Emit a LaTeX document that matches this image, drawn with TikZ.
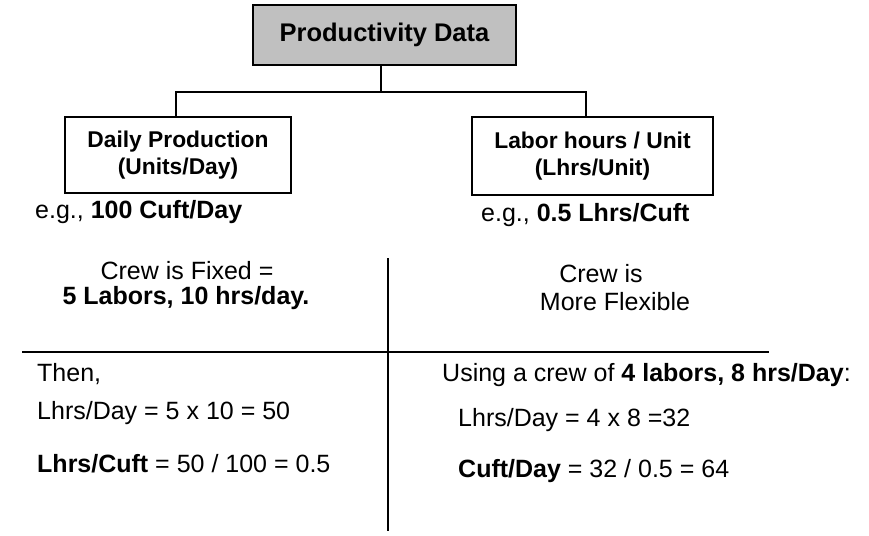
\documentclass[tikz,border=0pt]{standalone}
\usepackage{fontspec}
\setmainfont{Liberation Sans}
\definecolor{boxgray}{RGB}{192,192,192}
\begin{document}
\begin{tikzpicture}[x=1pt,y=-1pt,
  box/.style={draw=black,line width=1.6pt,inner sep=0pt,align=center},
  conn/.style={draw=black,line width=1.4pt},
  rule/.style={draw=black,line width=1.4pt},
  body/.style={inner sep=0pt,font=\fontsize{25}{29}\selectfont},
  boxtext/.style={font=\fontsize{22.8}{27}\selectfont\bfseries}]
\useasboundingbox (0,0) rectangle (869,535);

% top node and its two branches
\node[box,fill=boxgray,minimum width=263pt,minimum height=60pt,
      font=\fontsize{25.5}{30}\selectfont\bfseries] (top) at (384.5,35) {Productivity Data};
\node[box,boxtext,minimum width=226pt,minimum height=76pt] (daily) at (178,155)
  {Daily Production\\(Units/Day)};
\node[box,boxtext,minimum width=241pt,minimum height=78pt] (labor) at (592.5,156)
  {Labor hours / Unit\\(Lhrs/Unit)};

\coordinate (fork) at (381,92);
\draw[conn] (top.south -| fork) -- (fork);
\draw[conn] (fork) -| ([xshift=-2pt]daily.north);
\draw[conn] (fork) -| ([xshift=-6.5pt]labor.north);

% examples under each box
\node[body,anchor=west] (exA) at (35,212) {e.g., \textbf{100 Cuft/Day}};
\node[body,anchor=west] (exB) at (481,215) {e.g., \textbf{0.5 Lhrs/Cuft}};

% dividing rules
\coordinate (vtop) at (388,258);
\coordinate (vbot) at (388,531);
\coordinate (hl) at (22,352);
\coordinate (hr) at (769,352);
\draw[rule] (vtop) -- (vbot);
\draw[rule] (hl) -- (hr);

% crew cases
\node[body] (fixA) at (187,271) {Crew is Fixed =};
\node[body] (fixB) at (186,298) {\textbf{5 Labors, 10 hrs/day.}};
\node[body] (flexA) at (601,274) {Crew is};
\node[body] (flexB) at (615,302) {More Flexible};

% calculations
\node[body,anchor=west] (thenL) at (37,374) {Then,};
\node[body,anchor=west] (useR) at (442,375) {Using a crew of \textbf{4 labors, 8 hrs/Day}:};
\node[body,anchor=west] (calcL1) at (37,413) {Lhrs/Day = 5 x 10 = 50};
\node[body,anchor=west] (calcR1) at (458,420) {Lhrs/Day = 4 x 8 =32};
\node[body,anchor=west] (calcL2) at (37,464) {\textbf{Lhrs/Cuft} = 50 / 100 = 0.5};
\node[body,anchor=west] (calcR2) at (458,471) {\textbf{Cuft/Day} = 32 / 0.5 = 64};
\end{tikzpicture}
\end{document}
